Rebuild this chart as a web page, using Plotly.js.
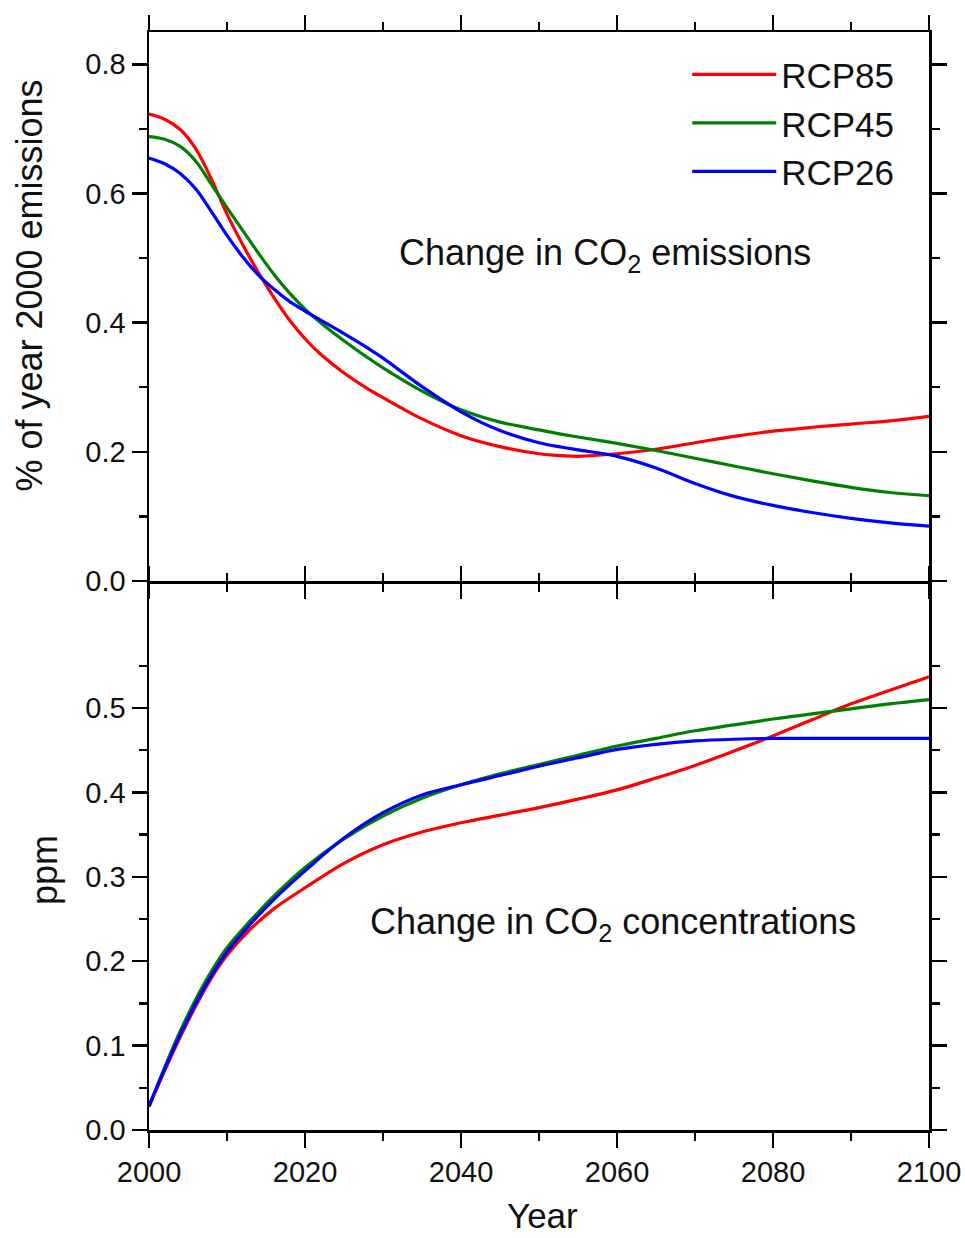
<!DOCTYPE html>
<html>
<head>
<meta charset="utf-8">
<script src="https://cdn.plot.ly/plotly-3.0.1.min.js"></script>
<style>body{margin:0;background:#fff;}#chart{width:965px;height:1238px;}</style>
</head>
<body>
<div id="chart"></div>
<script>
// ---- Emissions panel (top): fraction of year-2000 emissions ----
const emisYears = [2000,2002,2004,2006,2008,2010,2012,2014,2016,2018,2020,2022,2025,2028,2030,2035,2040,2045,2050,2053,2055,2060,2065,2070,2075,2080,2085,2090,2095,2100];
const emisRCP85 = [0.723,0.715,0.699,0.669,0.622,0.568,0.521,0.478,0.439,0.404,0.375,0.351,0.322,0.298,0.284,0.251,0.225,0.208,0.197,0.194,0.193,0.197,0.204,0.214,0.224,0.232,0.238,0.243,0.248,0.255];
const emisRCP45 = [0.688,0.684,0.673,0.650,0.614,0.578,0.543,0.508,0.475,0.446,0.421,0.400,0.372,0.346,0.330,0.294,0.265,0.246,0.234,0.227,0.223,0.213,0.202,0.190,0.178,0.166,0.155,0.145,0.137,0.132];
const emisRCP26 = [0.655,0.646,0.631,0.607,0.572,0.535,0.502,0.474,0.452,0.433,0.418,0.404,0.383,0.361,0.345,0.301,0.262,0.233,0.214,0.207,0.203,0.193,0.175,0.151,0.131,0.117,0.106,0.097,0.090,0.085];

// ---- Concentration panel (bottom): ppm ----
const concYears = [2000,2002,2004,2006,2008,2010,2013,2016,2020,2025,2030,2035,2040,2045,2050,2055,2060,2065,2070,2075,2080,2085,2090,2095,2100];
const concRCP85 = [0.028,0.070,0.110,0.147,0.180,0.207,0.238,0.262,0.287,0.316,0.338,0.353,0.364,0.373,0.382,0.392,0.403,0.417,0.432,0.449,0.467,0.486,0.505,0.521,0.537];
const concRCP45 = [0.028,0.074,0.117,0.155,0.188,0.216,0.248,0.277,0.311,0.345,0.372,0.393,0.409,0.422,0.433,0.444,0.455,0.464,0.473,0.480,0.487,0.493,0.499,0.505,0.510];
const concRCP26 = [0.028,0.072,0.113,0.150,0.183,0.211,0.244,0.273,0.307,0.346,0.376,0.397,0.409,0.420,0.431,0.441,0.451,0.457,0.461,0.463,0.464,0.464,0.464,0.464,0.464];

const seriesNames = ['RCP85','RCP45','RCP26'];
const seriesColors = ['#ff0000','#008000','#0000ff'];

const xTickVals = [2000,2020,2040,2060,2080,2100];
const topYTicks = [0.0,0.2,0.4,0.6,0.8];
const botYTicks = [0.0,0.1,0.2,0.3,0.4,0.5];
const botYMinor = [0.05,0.15,0.25,0.35,0.45,0.55];

const FONT = '"Liberation Sans", Arial, sans-serif';

const emisSets = [emisRCP85, emisRCP45, emisRCP26];
const concSets = [concRCP85, concRCP45, concRCP26];

const traces = [];
seriesNames.forEach((n,i)=>{
  traces.push({x:emisYears, y:emisSets[i], xaxis:'x2', yaxis:'y2', type:'scatter', mode:'lines',
    name:n, line:{color:seriesColors[i], width:3.2, shape:'spline', smoothing:1}, showlegend:true});
});
seriesNames.forEach((n,i)=>{
  traces.push({x:concYears, y:concSets[i], xaxis:'x', yaxis:'y', type:'scatter', mode:'lines',
    name:n, line:{color:seriesColors[i], width:3.2, shape:'spline', smoothing:1}, showlegend:false});
});

const axisCommon = {
  showline:true, linecolor:'#000', linewidth:2.5, mirror:'ticks',
  ticks:'outside', ticklen:15, tickwidth:2.5, tickcolor:'#000',
  showgrid:false, zeroline:false,
  tickfont:{family:FONT, size:29, color:'#111'}
};
const minorCommon = {ticks:'outside', ticklen:8, tickwidth:2.5, tickcolor:'#000', showgrid:false};

const layout = {
  width:965, height:1238,
  margin:{l:149, r:36, t:32, b:108},
  paper_bgcolor:'#fff', plot_bgcolor:'#fff',
  font:{family:FONT, color:'#111'},
  showlegend:true,
  legend:{x:0.690, y:0.988, xanchor:'left', yanchor:'top', bgcolor:'rgba(0,0,0,0)',
    font:{family:FONT, size:35, color:'#111'}, itemwidth:84, tracegroupgap:0},
  xaxis: Object.assign({}, axisCommon, {anchor:'y', domain:[0,1], range:[2000,2100],
    tickvals:xTickVals, minor:Object.assign({dtick:10, tick0:2000}, minorCommon)}),
  xaxis2: Object.assign({}, axisCommon, {anchor:'y2', matches:'x', domain:[0,1], range:[2000,2100],
    tickvals:xTickVals, showticklabels:false,
    minor:Object.assign({dtick:10, tick0:2000}, minorCommon)}),
  yaxis: Object.assign({}, axisCommon, {anchor:'x', domain:[0,0.4977], range:[0,0.6475],
    tickvals:botYTicks, tickformat:'.1f',
    minor:Object.assign({tickvals:botYMinor}, minorCommon)}),
  yaxis2: Object.assign({}, axisCommon, {anchor:'x2', domain:[0.5,1], range:[0,0.85],
    tickvals:topYTicks, tickformat:'.1f',
    minor:Object.assign({dtick:0.1, tick0:0}, minorCommon)}),
  annotations:[
    {text:'Change in CO<sub>2</sub> emissions', xref:'paper', yref:'paper', x:0.585, y:0.797,
      xanchor:'center', yanchor:'middle', showarrow:false, font:{family:FONT, size:36, color:'#111'}},
    {text:'Change in CO<sub>2</sub> concentrations', xref:'paper', yref:'paper', x:0.595, y:0.1874,
      xanchor:'center', yanchor:'middle', showarrow:false, font:{family:FONT, size:36, color:'#111'}},
    {text:'Year', xref:'paper', yref:'paper', x:0.505, y:-0.0775,
      xanchor:'center', yanchor:'middle', showarrow:false, font:{family:FONT, size:35, color:'#111'}},
    {text:'% of year 2000 emissions', xref:'paper', yref:'paper', x:-0.1526, y:0.7690, textangle:-90,
      xanchor:'center', yanchor:'middle', showarrow:false, font:{family:FONT, size:36, color:'#111'}},
    {text:'ppm', xref:'paper', yref:'paper', x:-0.1333, y:0.2368, textangle:-90,
      xanchor:'center', yanchor:'middle', showarrow:false, font:{family:FONT, size:36, color:'#111'}}
  ]
};

Plotly.newPlot('chart', traces, layout, {displayModeBar:false, staticPlot:true});
</script>
</body>
</html>
